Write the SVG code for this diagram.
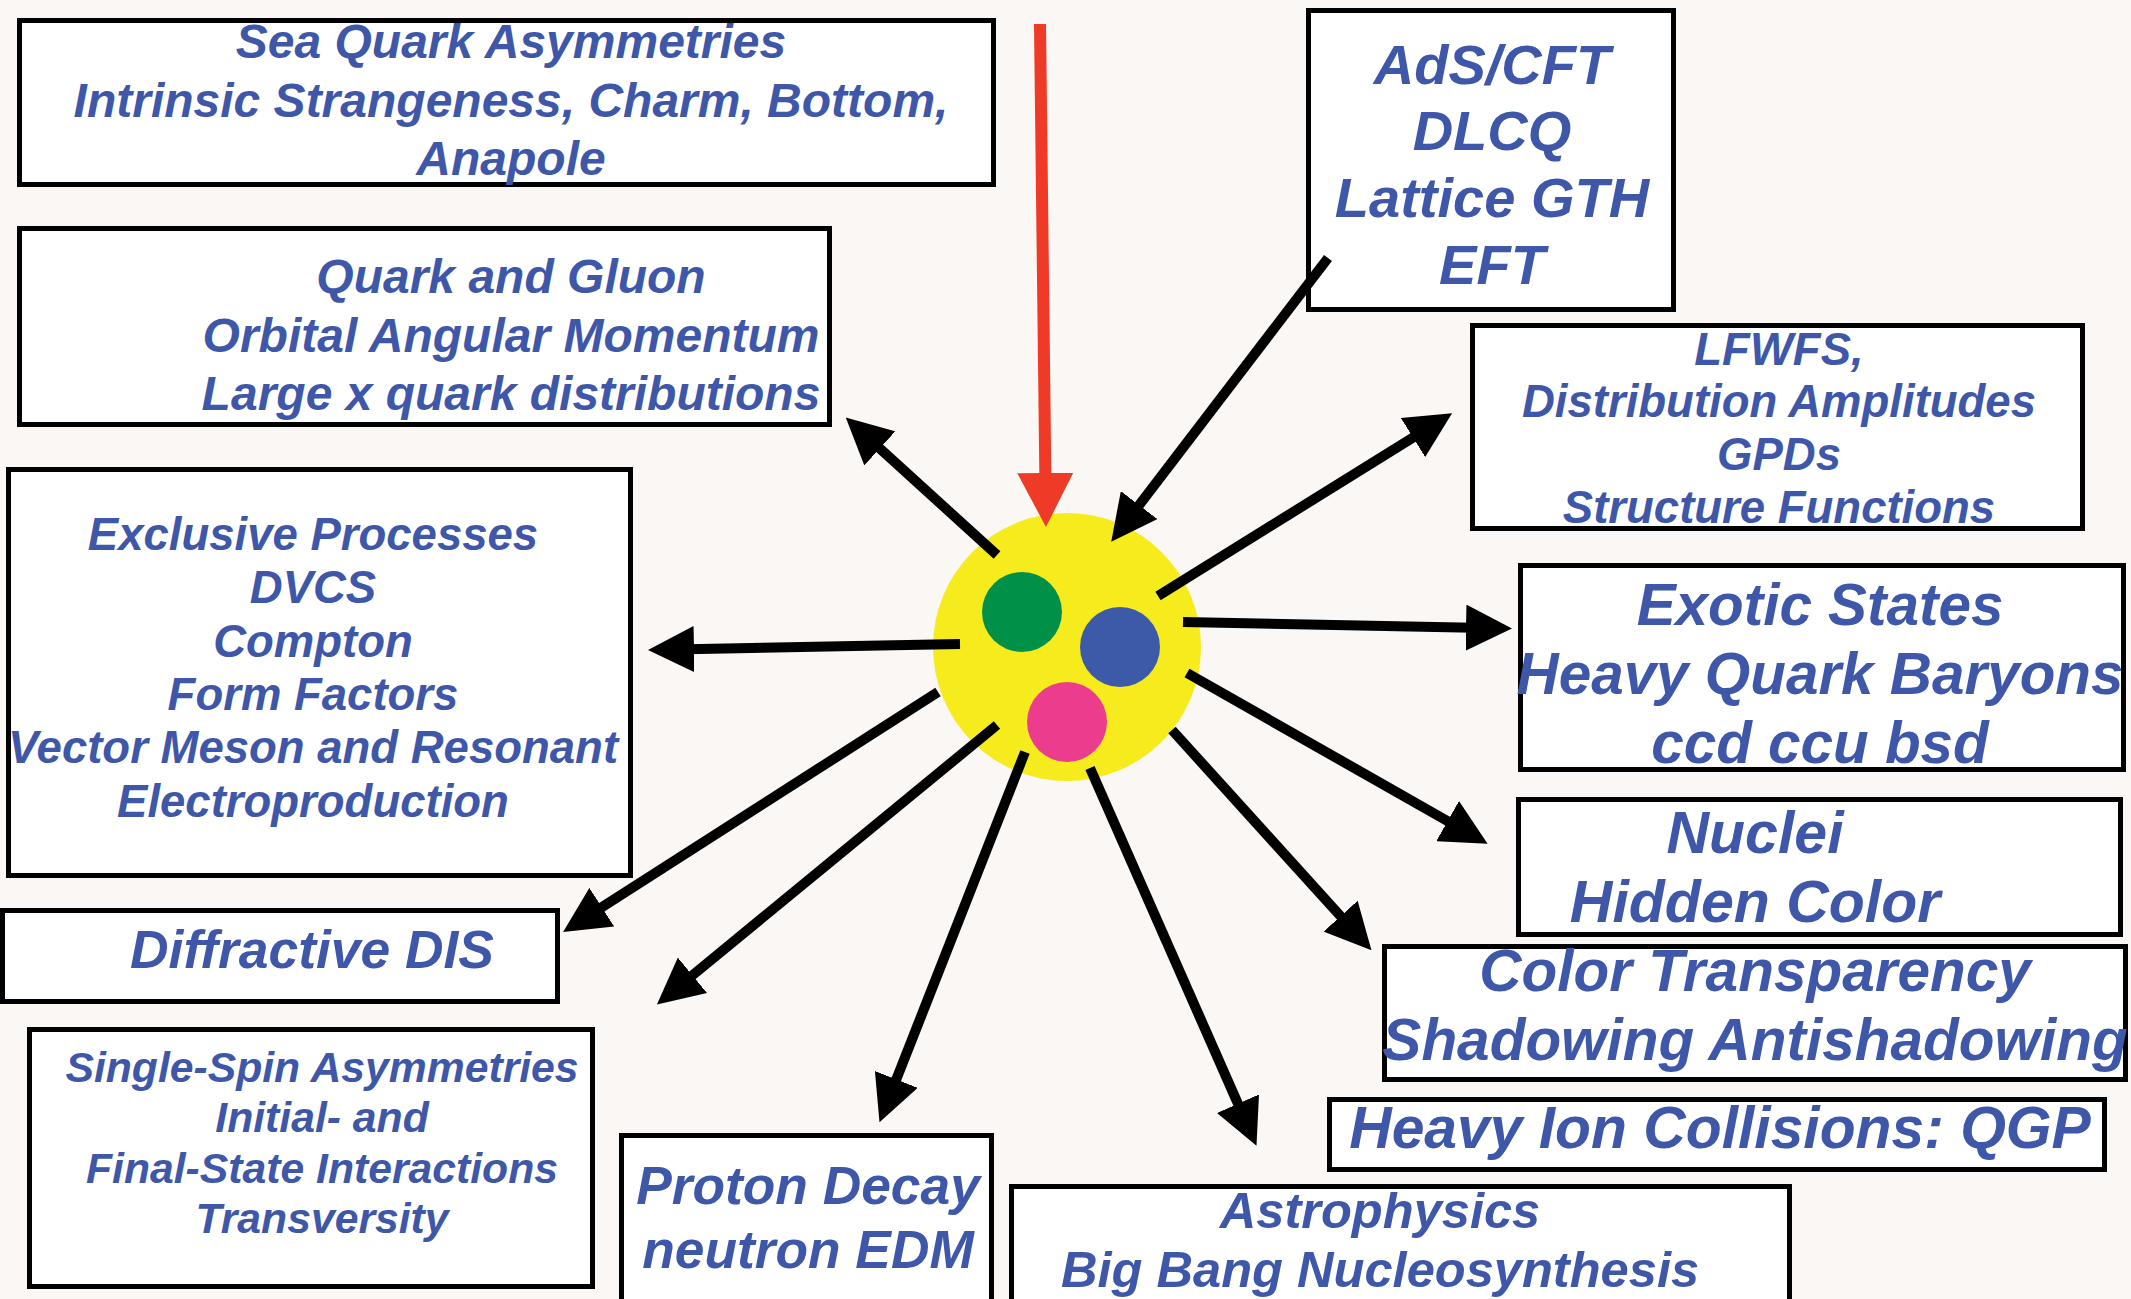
<svg xmlns="http://www.w3.org/2000/svg" width="2131" height="1299" viewBox="0 0 2131 1299">
<defs>
<style>
.bg{fill:#FAF7F4}
.box{fill:#FFFFFF;stroke:#000;stroke-width:5}
.t{font-family:"Liberation Sans",Arial,sans-serif;font-weight:bold;font-style:italic;fill:#3E57A8;text-anchor:middle}
.arr{stroke:#000;stroke-width:10;fill:none;marker-end:url(#ah)}
.red{stroke:#EE3A26;stroke-width:12;fill:none;marker-end:url(#rh)}
</style>
<marker id="ah" markerUnits="userSpaceOnUse" viewBox="0 0 46 46" markerWidth="46" markerHeight="46" refX="20" refY="23" orient="auto">
<path d="M0,0 L46,23 L0,46 z" fill="#000"/>
</marker>
<marker id="rh" markerUnits="userSpaceOnUse" viewBox="0 0 54 56" markerWidth="54" markerHeight="56" refX="24" refY="28" orient="auto">
<path d="M0,0 L54,28 L0,56 z" fill="#EE3A26"/>
</marker>
</defs>
<rect class="bg" x="0" y="0" width="2131" height="1299"/>

<g id="proton">
<circle cx="1067" cy="647" r="134" fill="#F6EB1C"/>
<circle cx="1022" cy="612" r="40" fill="#009048"/>
<circle cx="1120" cy="647" r="40" fill="#3D5AA8"/>
<circle cx="1067" cy="722" r="40" fill="#EC3C8E"/>
</g>

<g id="sea-quark">
<rect class="box" x="19.5" y="20.5" width="974" height="164"/>
<text class="t" font-size="48" x="511" y="58">Sea Quark Asymmetries</text>
<text class="t" font-size="48" x="511" y="117">Intrinsic Strangeness, Charm, Bottom,</text>
<text class="t" font-size="48" x="511" y="175">Anapole</text>
</g>

<g id="quark-gluon">
<rect class="box" x="19.5" y="228.5" width="810" height="196"/>
<text class="t" font-size="48" x="511" y="293">Quark and Gluon</text>
<text class="t" font-size="48" x="511" y="352">Orbital Angular Momentum</text>
<text class="t" font-size="48" x="511" y="410">Large x quark distributions</text>
</g>

<g id="exclusive">
<rect class="box" x="8.5" y="469.5" width="622" height="406"/>
<text class="t" font-size="45.5" x="313" y="550">Exclusive Processes</text>
<text class="t" font-size="45.5" x="313" y="603">DVCS</text>
<text class="t" font-size="45.5" x="313" y="657">Compton</text>
<text class="t" font-size="45.5" x="313" y="710">Form Factors</text>
<text class="t" font-size="45.5" x="313" y="763">Vector Meson and Resonant</text>
<text class="t" font-size="45.5" x="313" y="817">Electroproduction</text>
</g>

<g id="diffractive">
<rect class="box" x="2.5" y="910.5" width="555" height="91"/>
<text class="t" font-size="53.4" x="312" y="968">Diffractive DIS</text>
</g>

<g id="single-spin">
<rect class="box" x="29.5" y="1029.5" width="563" height="257"/>
<text class="t" font-size="42.7" x="322" y="1082">Single-Spin Asymmetries</text>
<text class="t" font-size="42.7" x="322" y="1132">Initial- and</text>
<text class="t" font-size="42.7" x="322" y="1183">Final-State Interactions</text>
<text class="t" font-size="42.7" x="322" y="1233">Transversity</text>
</g>

<g id="proton-decay">
<rect class="box" x="621.5" y="1135.5" width="370" height="180"/>
<text class="t" font-size="53.3" x="808" y="1204">Proton Decay</text>
<text class="t" font-size="53.3" x="808" y="1268">neutron EDM</text>
</g>

<g id="astrophysics">
<rect class="box" x="1011.5" y="1186.5" width="778" height="130"/>
<text class="t" font-size="50.6" x="1380" y="1228">Astrophysics</text>
<text class="t" font-size="50.6" x="1380" y="1287">Big Bang Nucleosynthesis</text>
</g>

<g id="heavy-ion">
<rect class="box" x="1329.5" y="1099.5" width="775" height="70"/>
<text class="t" font-size="58.8" x="1720" y="1148">Heavy Ion Collisions: QGP</text>
</g>

<g id="color-transparency">
<rect class="box" x="1384.5" y="946.5" width="741" height="133"/>
<text class="t" font-size="58.5" x="1755" y="991">Color Transparency</text>
<text class="t" font-size="58.5" x="1755" y="1060">Shadowing Antishadowing</text>
</g>

<g id="nuclei">
<rect class="box" x="1518.5" y="799.5" width="602" height="135"/>
<text class="t" font-size="59" x="1755" y="853">Nuclei</text>
<text class="t" font-size="59" x="1755" y="922">Hidden Color</text>
</g>

<g id="exotic">
<rect class="box" x="1520.5" y="565.5" width="603" height="204"/>
<text class="t" font-size="58.4" x="1820" y="625">Exotic States</text>
<text class="t" font-size="58.4" x="1820" y="694">Heavy Quark Baryons</text>
<text class="t" font-size="58.4" x="1820" y="763">ccd ccu bsd</text>
</g>

<g id="lfwfs">
<rect class="box" x="1472.5" y="325.5" width="610" height="203"/>
<text class="t" font-size="45.5" x="1779" y="365">LFWFS,</text>
<text class="t" font-size="45.5" x="1779" y="417">Distribution Amplitudes</text>
<text class="t" font-size="45.5" x="1779" y="470">GPDs</text>
<text class="t" font-size="45.5" x="1779" y="523">Structure Functions</text>
</g>

<g id="ads-cft">
<rect class="box" x="1308.5" y="10.5" width="365" height="299"/>
<text class="t" font-size="56" x="1492" y="84">AdS/CFT</text>
<text class="t" font-size="56" x="1492" y="150">DLCQ</text>
<text class="t" font-size="56" x="1492" y="217">Lattice GTH</text>
<text class="t" font-size="56" x="1492" y="284">EFT</text>
</g>

<g id="connectors">
<line class="red" x1="1040" y1="24" x2="1045.6" y2="497"/>
<line class="arr" x1="997" y1="555" x2="865" y2="435"/>
<line class="arr" x1="1328" y1="258" x2="1127" y2="521"/>
<line class="arr" x1="1158" y1="596" x2="1430" y2="427"/>
<line class="arr" x1="1183" y1="622" x2="1486" y2="628"/>
<line class="arr" x1="1187" y1="673" x2="1465" y2="831"/>
<line class="arr" x1="1172" y1="730" x2="1354" y2="931"/>
<line class="arr" x1="1090" y1="768" x2="1246" y2="1122"/>
<line class="arr" x1="1025" y1="752" x2="889" y2="1098"/>
<line class="arr" x1="997" y1="725" x2="677" y2="988"/>
<line class="arr" x1="938" y1="692" x2="585" y2="918"/>
<line class="arr" x1="960" y1="644" x2="674" y2="649.5"/>
</g>
</svg>
